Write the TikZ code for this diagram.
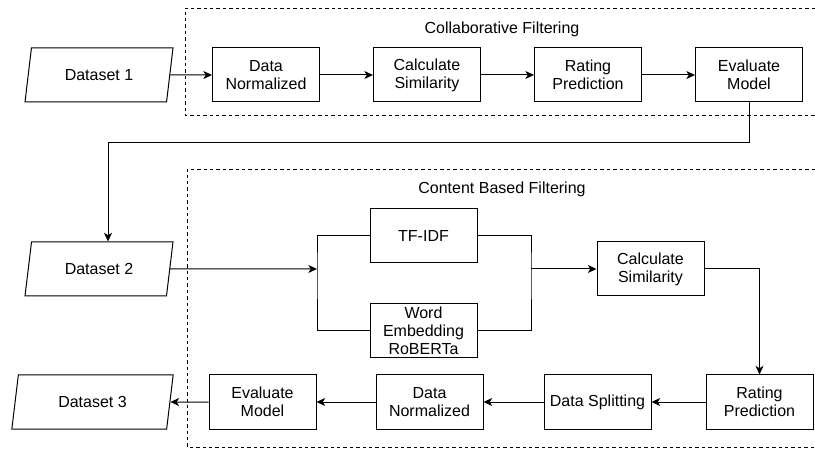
\documentclass[tikz,border=0pt]{standalone}
\usepackage{fontspec}
\setmainfont{Liberation Sans}
\usetikzlibrary{
		calc,
		positioning,
		arrows.meta,
		shapes.geometric
	}
\tikzset{
		>={Stealth[length=6.5pt,width=6pt,inset=1.8pt]}
	}

\begin{document}
\begin{tikzpicture}[x=0.75pt, y=-0.75pt, line width=0.75pt,
					font=\fontsize{12}{13.5}\selectfont,
					process/.style={rectangle, draw, align=center, minimum width=80.25pt, minimum height=40.5pt, inner sep=1pt},
					dataset/.style={trapezium, draw, trapezium left angle=65, trapezium right angle=115, trapezium stretches body, minimum width=111pt, minimum height=40.5pt, inner sep=1pt},
					group/.style={draw, dash pattern=on 2.6pt off 2.2pt, line width=0.7pt},
					title/.style={anchor=center}]
	\useasboundingbox (0,0) rectangle (815,449);
	\draw[group] (815,8) -- (185,8) -- (185,115) -- (815,115);
	\draw[group] (815,169) -- (187,169) -- (187,447) -- (815,447);
	\node[title] (cf) at (502,29) {Collaborative Filtering};
	\node[title] (cbf) at (502,189) {Content Based Filtering};

	\node[dataset] (ds1) at (99,75) {Dataset 1};
	\node[process] (norm1) at (266,75) {Data\\Normalized};
	\node[process, right=39.75pt of norm1] (sim1) {Calculate\\Similarity};
	\node[process, right=39.75pt of sim1] (pred1) {Rating\\Prediction};
	\node[process, right=39.75pt of pred1] (eval1) {Evaluate\\Model};

	\node[dataset] (ds2) at (99,269) {Dataset 2};
	\node[process] (tfidf) at (423.5,235.5) {TF-IDF};
	\node[process, below=30pt of tfidf] (embed) {Word\\Embedding\\RoBERTa};
	\coordinate (split) at (317,269);
	\coordinate (merge) at (531,269);
	\node[process] (sim2) at (650.5,269) {Calculate\\Similarity};
	\node[process] (pred2) at (759.5,402) {Rating\\Prediction};
	\node[process, left=40.5pt of pred2] (split2) {Data Splitting};
	\node[process, left=45pt of split2] (norm2) {Data\\Normalized};
	\node[process, left=44.25pt of norm2] (eval2) {Evaluate\\Model};
	\node[dataset, minimum width=121pt] (ds3) at (92.5,402) {Dataset 3};

	\draw[->] (ds1) -- (norm1);
	\draw[->] (norm1) -- (sim1);
	\draw[->] (sim1) -- (pred1);
	\draw[->] (pred1) -- (eval1);
	\draw[->] (eval1.south) -- ++(0,40) -| ([xshift=6.75pt]ds2.north);

	\draw (tfidf.west) -| (split) |- (embed.west);
	\draw (tfidf.east) -| (merge) |- (embed.east);
	\draw[->] (ds2) -- (split);
	\draw[->] (merge) -- (sim2);
	\draw[->] (sim2.east) -| (pred2.north);
	\draw[->] (pred2) -- (split2);
	\draw[->] (split2) -- (norm2);
	\draw[->] (norm2) -- (eval2);
	\draw[->] (eval2) -- (ds3);
\end{tikzpicture}
\end{document}
